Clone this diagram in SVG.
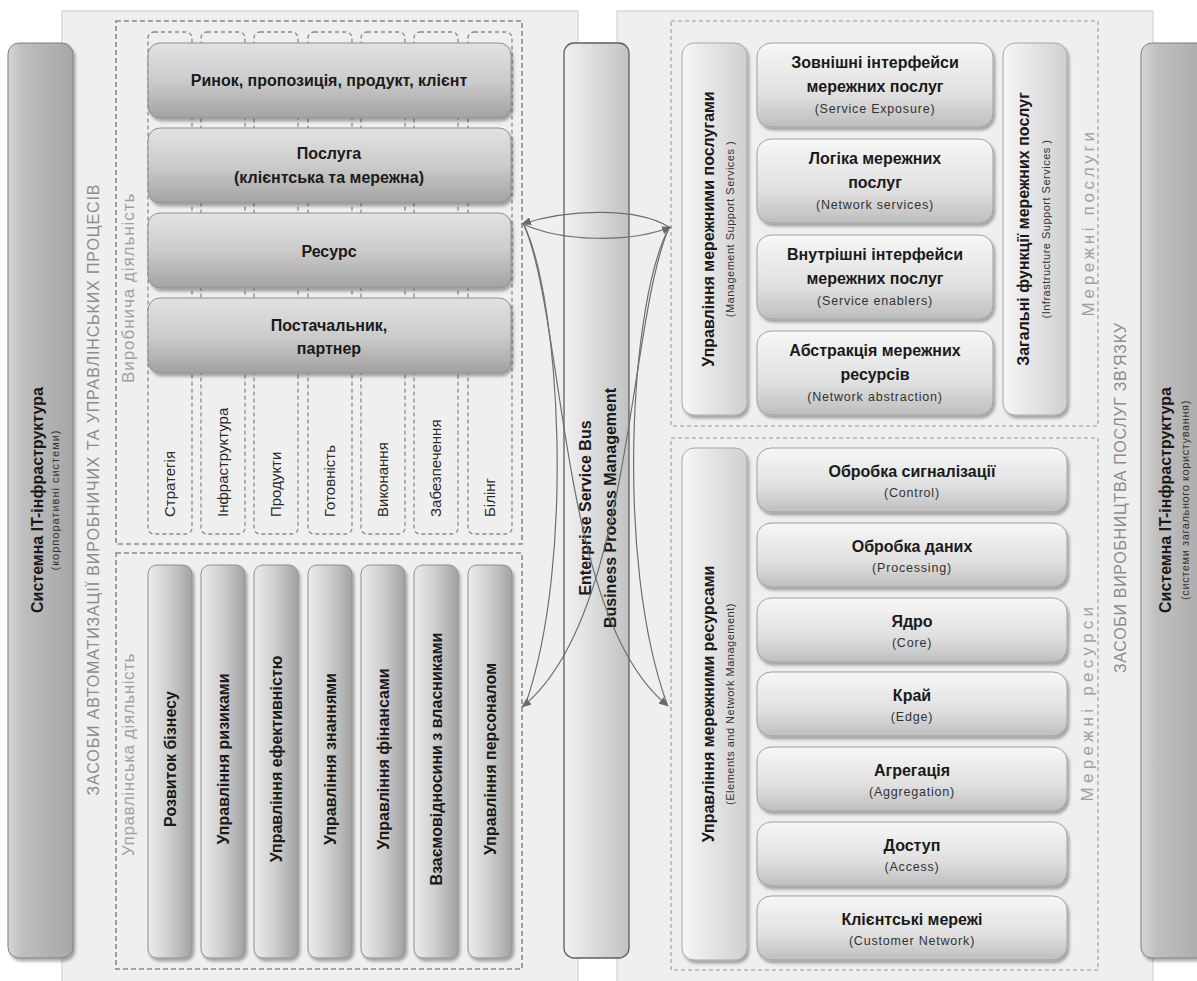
<svg xmlns="http://www.w3.org/2000/svg" width="1197" height="981" viewBox="0 0 1197 981">
<defs>
<style>
text{font-family:"Liberation Sans",Arial,sans-serif;fill:#1a1a1a}
.t{font-size:16px;font-weight:bold;text-anchor:middle}
.s{font-size:12.5px;text-anchor:middle;fill:#333;letter-spacing:0.8px}
.c{font-size:15px;fill:#2a2a2a}
.lbl{font-size:17px;fill:#a0a0a0;letter-spacing:0.6px}
.big{font-size:16px;fill:#8c8c8c;text-anchor:middle}
.panel{fill:#efefef;stroke:#d3d3d3;stroke-width:1.2}
.dash{fill:none;stroke:#8a8a8a;stroke-width:1.6;stroke-dasharray:5 3}
.dashr{fill:none;stroke:#9a9a9a;stroke-width:1.1;stroke-dasharray:4 3}
.col{fill:none;stroke:#8a8a8a;stroke-width:1.3;stroke-dasharray:4 3}
.row{fill:url(#gRow);stroke:#8e8e8e;stroke-width:1;filter:url(#sh)}
.node{fill:url(#gNode);stroke:#a0a0a0;stroke-width:1;filter:url(#sh)}
.mbar{fill:url(#gBarH);stroke:#8e8e8e;stroke-width:1;filter:url(#sh)}
.vnode{fill:url(#gVert);stroke:#a8a8a8;stroke-width:1;filter:url(#sh)}
.it{fill:url(#gIT);stroke:#7e7e7e;stroke-width:1;filter:url(#sh)}
.esb{fill:url(#gESB);stroke:#5e5e5e;stroke-width:1.3}
.con{fill:none;stroke:#6e6e6e;stroke-width:1.2}
</style>
<linearGradient id="gRow" x1="0" y1="0" x2="0" y2="1">
<stop offset="0" stop-color="#e2e2e2"/><stop offset="0.5" stop-color="#cccccc"/><stop offset="1" stop-color="#a2a2a2"/>
</linearGradient>
<linearGradient id="gNode" x1="0" y1="0" x2="0" y2="1">
<stop offset="0" stop-color="#f7f7f7"/><stop offset="0.6" stop-color="#e0e0e0"/><stop offset="1" stop-color="#bebebe"/>
</linearGradient>
<linearGradient id="gBarH" x1="0" y1="0" x2="1" y2="0">
<stop offset="0" stop-color="#ececec"/><stop offset="0.5" stop-color="#cdcdcd"/><stop offset="1" stop-color="#a2a2a2"/>
</linearGradient>
<linearGradient id="gVert" x1="0" y1="0" x2="1" y2="0">
<stop offset="0" stop-color="#f6f6f6"/><stop offset="1" stop-color="#d0d0d0"/>
</linearGradient>
<linearGradient id="gIT" x1="0" y1="0" x2="1" y2="0">
<stop offset="0" stop-color="#d6d6d6"/><stop offset="0.2" stop-color="#c0c0c0"/><stop offset="1" stop-color="#a6a6a6"/>
</linearGradient>
<linearGradient id="gESB" x1="0" y1="0" x2="1" y2="0">
<stop offset="0" stop-color="#f2f2f2"/><stop offset="1" stop-color="#c2c2c2"/>
</linearGradient>
<filter id="sh" x="-10%" y="-10%" width="130%" height="130%">
<feDropShadow dx="2" dy="3" stdDeviation="1.8" flood-color="#000" flood-opacity="0.32"/>
</filter>
<marker id="ah" viewBox="0 0 10 8" refX="9" refY="4" markerWidth="10" markerHeight="8" markerUnits="userSpaceOnUse" orient="auto">
<path d="M0,0 L10,4 L0,8 z" fill="#6a6a6a"/>
</marker>
</defs>
<rect width="1197" height="981" fill="#ffffff"/>

<g id="panel-left">
<rect class="panel" x="62" y="11" width="516" height="980"/>
<text class="big" transform="translate(99,490) rotate(-90)" textLength="611" lengthAdjust="spacing">ЗАСОБИ АВТОМАТИЗАЦІЇ ВИРОБНИЧИХ ТА УПРАВЛІНСЬКИХ ПРОЦЕСІВ</text>
</g>
<g id="panel-right">
<rect class="panel" x="617" y="11" width="536" height="980"/>
<text class="big" transform="translate(1126,498) rotate(-90)" textLength="350" lengthAdjust="spacing">ЗАСОБИ ВИРОБНИЦТВА ПОСЛУГ ЗВ'ЯЗКУ</text>
</g>

<g id="it-left">
<rect class="it" x="8" y="43" width="65" height="915" rx="11"/>
<text class="t" transform="translate(43,500) rotate(-90)">Системна IT-інфраструктура</text>
<text class="s" style="font-size:11px;letter-spacing:1px" transform="translate(59,500) rotate(-90)">(корпоративні системи)</text>
</g>
<g id="it-right">
<rect class="it" x="1141" y="43" width="75" height="915" rx="11"/>
<text class="t" transform="translate(1171,500) rotate(-90)">Системна IT-інфраструктура</text>
<text class="s" style="font-size:11px;letter-spacing:0.6px" transform="translate(1189,500) rotate(-90)">(системи загального користування)</text>
</g>

<g id="production">
<rect class="dash" x="116" y="21" width="406" height="523"/>
<text class="lbl" transform="translate(134,383) rotate(-90)" textLength="190" lengthAdjust="spacing">Виробнича діяльність</text>
</g>
<g id="columns">
<g id="col-1"><rect class="col" x="148" y="32" width="44" height="502" rx="6"/><text class="c" transform="translate(175,517) rotate(-90)">Стратегія</text></g>
<g id="col-2"><rect class="col" x="201" y="32" width="44" height="502" rx="6"/><text class="c" transform="translate(228,517) rotate(-90)">Інфраструктура</text></g>
<g id="col-3"><rect class="col" x="254" y="32" width="44" height="502" rx="6"/><text class="c" transform="translate(281,517) rotate(-90)">Продукти</text></g>
<g id="col-4"><rect class="col" x="308" y="32" width="44" height="502" rx="6"/><text class="c" transform="translate(335,517) rotate(-90)">Готовність</text></g>
<g id="col-5"><rect class="col" x="361" y="32" width="44" height="502" rx="6"/><text class="c" transform="translate(388,517) rotate(-90)">Виконання</text></g>
<g id="col-6"><rect class="col" x="414" y="32" width="44" height="502" rx="6"/><text class="c" transform="translate(441,517) rotate(-90)">Забезпечення</text></g>
<g id="col-7"><rect class="col" x="468" y="32" width="44" height="502" rx="6"/><text class="c" transform="translate(495,517) rotate(-90)">Білінг</text></g>
</g>
<g id="row-market"><rect class="row" x="148" y="43" width="363" height="75" rx="12"/><text class="t" x="329" y="86">Ринок, пропозиція, продукт, клієнт</text></g>
<g id="row-service"><rect class="row" x="148" y="128" width="363" height="75" rx="12"/><text class="t" x="329" y="159">Послуга</text><text class="t" x="329" y="183">(клієнтська та мережна)</text></g>
<g id="row-resource"><rect class="row" x="148" y="213" width="363" height="75" rx="12"/><text class="t" x="329" y="257">Ресурс</text></g>
<g id="row-supplier"><rect class="row" x="148" y="298" width="363" height="75" rx="12"/><text class="t" x="329" y="331">Постачальник,</text><text class="t" x="329" y="354">партнер</text></g>

<g id="management">
<rect class="dash" x="116" y="553" width="406" height="416"/>
<text class="lbl" transform="translate(134,856) rotate(-90)" textLength="203" lengthAdjust="spacing">Управлінська діяльність</text>
</g>
<g id="m-1"><rect class="mbar" x="148" y="565" width="44" height="393" rx="9"/><text class="t" transform="translate(176,759) rotate(-90)">Розвиток бізнесу</text></g>
<g id="m-2"><rect class="mbar" x="201" y="565" width="44" height="393" rx="9"/><text class="t" transform="translate(229,759) rotate(-90)">Управління ризиками</text></g>
<g id="m-3"><rect class="mbar" x="254" y="565" width="44" height="393" rx="9"/><text class="t" transform="translate(282,759) rotate(-90)">Управління ефективністю</text></g>
<g id="m-4"><rect class="mbar" x="308" y="565" width="44" height="393" rx="9"/><text class="t" transform="translate(336,759) rotate(-90)">Управління знаннями</text></g>
<g id="m-5"><rect class="mbar" x="361" y="565" width="44" height="393" rx="9"/><text class="t" transform="translate(389,759) rotate(-90)">Управління фінансами</text></g>
<g id="m-6"><rect class="mbar" x="414" y="565" width="44" height="393" rx="9"/><text class="t" transform="translate(442,759) rotate(-90)">Взаємовідносини з власниками</text></g>
<g id="m-7"><rect class="mbar" x="468" y="565" width="44" height="393" rx="9"/><text class="t" transform="translate(496,759) rotate(-90)">Управління персоналом</text></g>

<g id="esb">
<rect class="esb" x="564" y="43" width="65" height="915" rx="10"/>
<text class="t" transform="translate(591,508) rotate(-90)">Enterprise Service Bus</text>
<text class="t" transform="translate(616,508) rotate(-90)">Business Process Management</text>
</g>

<g id="net-services">
<rect class="dashr" x="671" y="21" width="427" height="405"/>
<text class="lbl" transform="translate(1094,224) rotate(-90)" text-anchor="middle" textLength="185" lengthAdjust="spacing">Мережні послуги</text>
</g>
<g id="mss"><rect class="vnode" x="682" y="43" width="65" height="372" rx="12"/><text class="t" transform="translate(714,229) rotate(-90)">Управління мережними послугами</text><text class="s" style="font-size:11px;letter-spacing:0.5px" transform="translate(734,229) rotate(-90)">(Management Support Services )</text></g>
<g id="exposure"><rect class="node" x="757" y="43" width="236" height="84" rx="14"/><text class="t" x="875" y="68">Зовнішні інтерфейси</text><text class="t" x="875" y="92">мережних послуг</text><text class="s" x="875" y="113">(Service Exposure)</text></g>
<g id="logic"><rect class="node" x="757" y="139" width="236" height="84" rx="14"/><text class="t" x="875" y="164">Логіка мережних</text><text class="t" x="875" y="188">послуг</text><text class="s" x="875" y="209">(Network services)</text></g>
<g id="enablers"><rect class="node" x="757" y="235" width="236" height="84" rx="14"/><text class="t" x="875" y="260">Внутрішні інтерфейси</text><text class="t" x="875" y="284">мережних послуг</text><text class="s" x="875" y="305">(Service enablers)</text></g>
<g id="abstraction"><rect class="node" x="757" y="331" width="236" height="84" rx="14"/><text class="t" x="875" y="356">Абстракція мережних</text><text class="t" x="875" y="380">ресурсів</text><text class="s" x="875" y="401">(Network abstraction)</text></g>
<g id="iss"><rect class="vnode" x="1003" y="43" width="64" height="372" rx="12"/><text class="t" transform="translate(1029,229) rotate(-90)">Загальні функції мережних послуг</text><text class="s" style="font-size:11px;letter-spacing:0.5px" transform="translate(1050,229) rotate(-90)">(Infrastructure Support Services )</text></g>

<g id="net-resources">
<rect class="dashr" x="671" y="438" width="427" height="532"/>
<text class="lbl" transform="translate(1093,704) rotate(-90)" text-anchor="middle" textLength="195" lengthAdjust="spacing">Мережні ресурси</text>
</g>
<g id="enm"><rect class="vnode" x="682" y="448" width="65" height="512" rx="12"/><text class="t" transform="translate(714,704) rotate(-90)">Управління мережними ресурсами</text><text class="s" style="font-size:11px;letter-spacing:0.5px" transform="translate(734,704) rotate(-90)">(Elements and Network Management)</text></g>
<g id="control"><rect class="node" x="757" y="448" width="310" height="64" rx="14"/><text class="t" x="912" y="477">Обробка сигналізації</text><text class="s" x="912" y="497">(Control)</text></g>
<g id="processing"><rect class="node" x="757" y="523" width="310" height="64" rx="14"/><text class="t" x="912" y="552">Обробка даних</text><text class="s" x="912" y="572">(Processing)</text></g>
<g id="core"><rect class="node" x="757" y="598" width="310" height="64" rx="14"/><text class="t" x="912" y="627">Ядро</text><text class="s" x="912" y="647">(Core)</text></g>
<g id="edge"><rect class="node" x="757" y="672" width="310" height="64" rx="14"/><text class="t" x="912" y="701">Край</text><text class="s" x="912" y="721">(Edge)</text></g>
<g id="aggregation"><rect class="node" x="757" y="747" width="310" height="64" rx="14"/><text class="t" x="912" y="776">Агрегація</text><text class="s" x="912" y="796">(Aggregation)</text></g>
<g id="access"><rect class="node" x="757" y="822" width="310" height="64" rx="14"/><text class="t" x="912" y="851">Доступ</text><text class="s" x="912" y="871">(Access)</text></g>
<g id="customer"><rect class="node" x="757" y="896" width="310" height="64" rx="14"/><text class="t" x="912" y="925">Клієнтські мережі</text><text class="s" x="912" y="945">(Customer Network)</text></g>

<g id="connectors">
<path class="con" d="M 669 227 C 635 206, 565 210, 522 224" marker-end="url(#ah)"/>
<path class="con" d="M 523 224 C 562 242, 630 243, 671 227" marker-end="url(#ah)"/>
<path class="con" d="M 524 225 C 560 300, 575 560, 526 703"/>
<path class="con" d="M 524 225 C 565 320, 560 620, 668 706" marker-end="url(#ah)"/>
<path class="con" d="M 669 228 C 630 300, 615 560, 667 704"/>
<path class="con" d="M 669 228 C 628 320, 632 620, 522 707" marker-end="url(#ah)"/>
</g>
</svg>
